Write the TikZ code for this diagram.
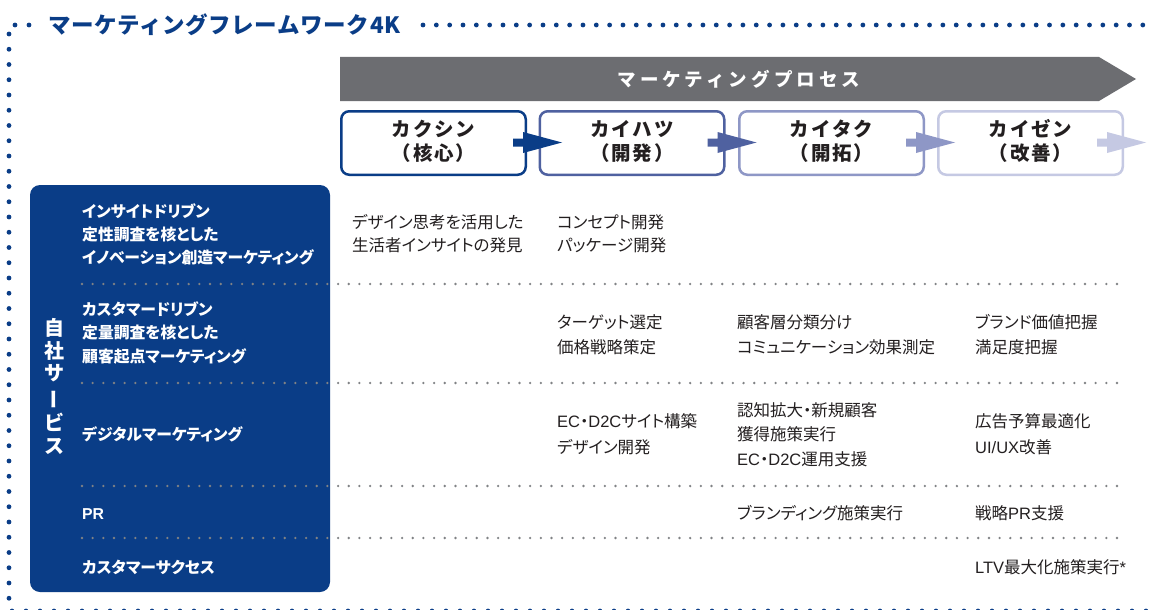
\documentclass[tikz,border=0pt]{standalone}
\usepackage{fontspec}
\setmainfont{Noto Sans CJK JP}
\newfontfamily\jpp{Noto Sans CJK JP}[RawFeature={+palt}]
\newfontfamily\jph{Noto Sans CJK JP}[LetterSpace=10]
\newfontfamily\jpb{Noto Sans CJK JP}[LetterSpace=22]
\newfontfamily\jpt{Noto Sans CJK JP}[LetterSpace=3]
\newfontfamily\latf{Liberation Sans}
\newcommand{\latn}[1]{{\latf #1}}
\usetikzlibrary{calc}
\definecolor{navy}{RGB}{10,61,135}
\definecolor{boxb}{RGB}{79,97,160}
\definecolor{boxc}{RGB}{142,151,198}
\definecolor{boxd}{RGB}{197,201,227}
\definecolor{bannergray}{RGB}{108,109,113}
\definecolor{txt}{RGB}{35,31,32}
\definecolor{divgray}{RGB}{128,130,133}
\tikzset{
  phasebox/.style={draw, line width=2.5pt, rounded corners=8pt, minimum width=184.5pt, minimum height=63.5pt, inner sep=0pt, fill=white},
  headtxt/.style={inner sep=0pt, text=txt, font=\jph\bfseries\fontsize{19.5}{22}\selectfont, text height=17.2pt, text depth=2.3pt},
  lab/.style={anchor=west, inner sep=0pt, text=white, font=\jpp\bfseries\fontsize{15.8}{18}\selectfont, text height=13.9pt, text depth=1.9pt},
  ct/.style={anchor=west, inner sep=0pt, text=txt, font=\jpp\fontsize{16.5}{19}\selectfont, text height=14.5pt, text depth=2pt},
  vch/.style={inner sep=0pt, text=white, font=\bfseries\fontsize{20}{24}\selectfont, text height=17.6pt, text depth=2.4pt},
  framedot/.style={fill=navy},
  divdot/.style={fill=divgray},
}
\newcommand{\blockarr}[2]{%
  \fill[#2] (#1) ++(0,-4) -- ++(10,0) -- ++(0,-6.5) -- ++(39,10.5) -- ++(-39,10.5) -- ++(0,-6.5) -- ++(-10,0) -- cycle;}
\begin{document}
\begin{tikzpicture}[x=1pt,y=-1pt]
\clip (0,0) rectangle (1149,610);
\fill[white] (0,0) rectangle (1149,610);
% dotted frame
\fill[framedot] (15,25) circle (2.4pt);
\fill[framedot] (29,25) circle (2.4pt);
\foreach \i in {0,...,54} {\fill[framedot] (423+\i*13.33,25) circle (2.4pt);}
\foreach \i in {0,...,37} {\fill[framedot] (9,34+\i*15.25) circle (2.4pt);}
\foreach \i in {0,...,81} {\fill[framedot] (12+\i*14,610.8) circle (2.2pt);}
% title
\node[anchor=west, inner sep=0pt, text=navy, font=\jpt\bfseries\fontsize{22.5}{26}\selectfont, text height=19.8pt, text depth=2.7pt] (title) at (48,25) {マーケティングフレームワーク4K};
% banner
\fill[bannergray] (340,57) -- (1099,57) -- (1136,79) -- (1099,101) -- (340,101) -- cycle;
\node[inner sep=0pt, text=white, font=\jpb\bfseries\fontsize{18.5}{22}\selectfont, text height=16.3pt, text depth=2.2pt] (banner) at (739,79) {マーケティングプロセス};
% phase boxes
\node[phasebox, draw=navy] (b1) at (433.5,143) {};
\node[phasebox, draw=boxb] (b2) at (632,143) {};
\node[phasebox, draw=boxc] (b3) at (831.5,143) {};
\node[phasebox, draw=boxd] (b4) at (1030.5,143) {};
\node[headtxt] (h1a) at ($(b1.center)+(0,-13.5)$) {カクシン};
\node[headtxt] (h1b) at ($(b1.center)+(0,10)$) {（核心）};
\node[headtxt] (h2a) at ($(b2.center)+(0,-13.5)$) {カイハツ};
\node[headtxt] (h2b) at ($(b2.center)+(0,10)$) {（開発）};
\node[headtxt] (h3a) at ($(b3.center)+(0,-13.5)$) {カイタク};
\node[headtxt] (h3b) at ($(b3.center)+(0,10)$) {（開拓）};
\node[headtxt] (h4a) at ($(b4.center)+(0,-13.5)$) {カイゼン};
\node[headtxt] (h4b) at ($(b4.center)+(0,10)$) {（改善）};
% block arrows
\coordinate (a1) at ($(b1.east)+(-14,-0.5)$);
\coordinate (a2) at ($(b2.east)+(-18,-0.5)$);
\coordinate (a3) at ($(b3.east)+(-19,-0.5)$);
\coordinate (a4) at ($(b4.east)+(-27,-0.5)$);
\blockarr{a1}{navy}
\blockarr{a2}{boxb}
\blockarr{a3}{boxc}
\blockarr{a4}{boxd}
% left panel
\node[fill=navy, rounded corners=10pt, minimum width=300pt, minimum height=407pt, inner sep=0pt] (panel) at (180,388.5) {};
% vertical label
\node[vch] (v1) at (54,328) {自};
\node[vch] (v2) at (54,351) {社};
\node[vch] (v3) at (54,373) {サ};
\node[vch, rotate=90] (v4) at (54,399.5) {ー};
\node[vch] (v5) at (54,423) {ビ};
\node[vch] (v6) at (54,446) {ス};
% dividers
\foreach \yy in {284,383,486,538} {
  \foreach \i in {0,...,97} {\fill[divdot] (82+\i*10.67,\yy) circle (1.3pt);}
}
% row labels
\node[lab] (l1a) at (82,211) {インサイトドリブン};
\node[lab] (l1b) at (82,234) {定性調査を核とした};
\node[lab] (l1c) at (82,257) {イノベーション創造マーケティング};
\node[lab] (l2a) at (82,309) {カスタマードリブン};
\node[lab] (l2b) at (82,332) {定量調査を核とした};
\node[lab] (l2c) at (82,356) {顧客起点マーケティング};
\node[lab] (l3) at (82,434) {デジタルマーケティング};
\node[lab] (l4) at (82,513) {\latn{PR}};
\node[lab] (l5) at (82,567) {カスタマーサクセス};
% contents
\node[ct] (c11a) at (352,222) {デザイン思考を活用した};
\node[ct] (c11b) at (352,245) {生活者インサイトの発見};
\node[ct] (c12a) at (557,222) {コンセプト開発};
\node[ct] (c12b) at (557,245) {パッケージ開発};
\node[ct] (c22a) at (557,322) {ターゲット選定};
\node[ct] (c22b) at (557,347) {価格戦略策定};
\node[ct] (c23a) at (737,322) {顧客層分類分け};
\node[ct] (c23b) at (737,347) {コミュニケーション効果測定};
\node[ct] (c24a) at (975,322) {ブランド価値把握};
\node[ct] (c24b) at (975,347) {満足度把握};
\node[ct] (c32a) at (557,421) {\latn{EC}・\latn{D2C}サイト構築};
\node[ct] (c32b) at (557,447) {デザイン開発};
\node[ct] (c33a) at (737,410) {認知拡大・新規顧客};
\node[ct] (c33b) at (737,434) {獲得施策実行};
\node[ct] (c33c) at (737,459) {\latn{EC}・\latn{D2C}運用支援};
\node[ct] (c34a) at (975,421) {広告予算最適化};
\node[ct] (c34b) at (975,447) {\latn{UI/UX}改善};
\node[ct] (c43) at (737,513) {ブランディング施策実行};
\node[ct] (c44) at (975,513) {戦略\latn{PR}支援};
\node[ct] (c54) at (975,567) {\latn{LTV}最大化施策実行\latn{*}};
\end{tikzpicture}
\end{document}
